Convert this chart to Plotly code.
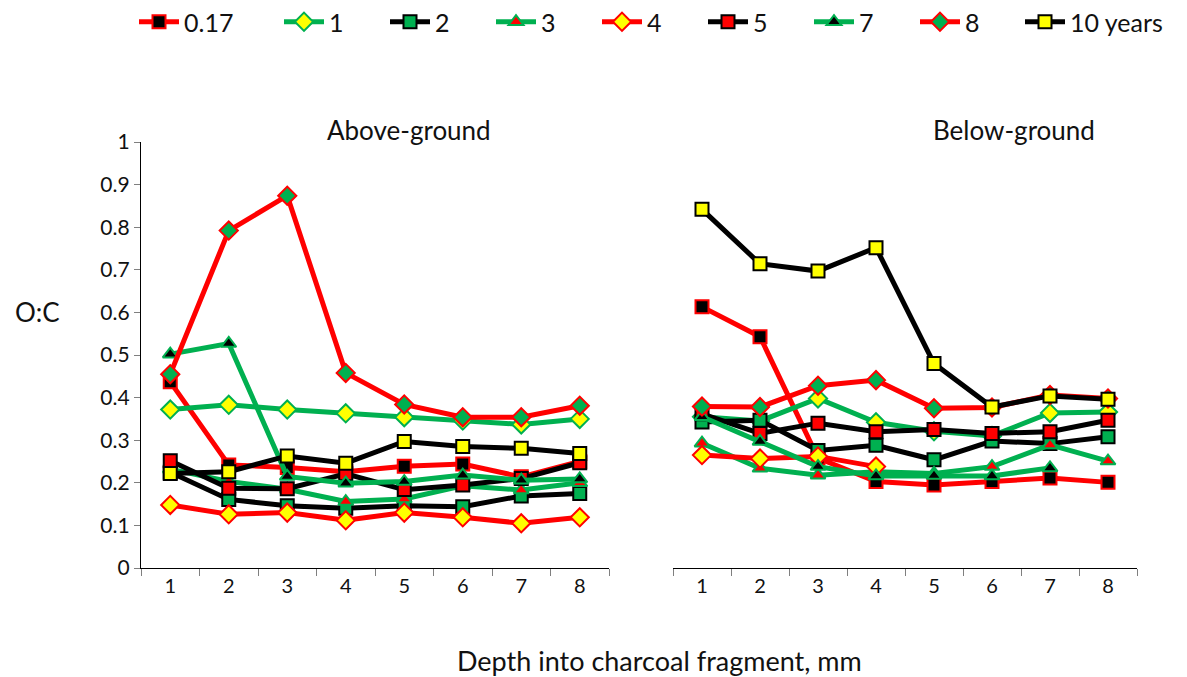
import plotly.graph_objects as go

depth = ["1", "2", "3", "4", "5", "6", "7", "8"]
y_ticks = [0, 0.1, 0.2, 0.3, 0.4, 0.5, 0.6, 0.7, 0.8, 0.9, 1]
y_tick_text = ["0", "0.1", "0.2", "0.3", "0.4", "0.5", "0.6", "0.7", "0.8", "0.9", "1"]

series_names = ["0.17", "1", "2", "3", "4", "5", "7", "8", "10 years"]

# Above-ground
ag_017 = [0.437, 0.242, 0.236, 0.226, 0.239, 0.244, 0.214, 0.250]
ag_1 = [0.372, 0.383, 0.372, 0.363, 0.354, 0.346, 0.337, 0.350]
ag_2 = [0.225, 0.161, 0.146, 0.140, 0.146, 0.144, 0.169, 0.175]
ag_3 = [0.232, 0.203, 0.185, 0.156, 0.162, 0.193, 0.183, 0.200]
ag_4 = [0.148, 0.126, 0.130, 0.112, 0.130, 0.119, 0.105, 0.119]
ag_5 = [0.252, 0.187, 0.186, 0.221, 0.184, 0.195, 0.210, 0.247]
ag_7 = [0.502, 0.527, 0.215, 0.199, 0.203, 0.218, 0.206, 0.209]
ag_8 = [0.455, 0.792, 0.874, 0.458, 0.384, 0.354, 0.354, 0.381]
ag_10 = [0.222, 0.226, 0.263, 0.246, 0.297, 0.285, 0.281, 0.269]

# Below-ground
bg_017 = [0.613, 0.543, 0.258, 0.203, 0.195, 0.203, 0.211, 0.201]
bg_1 = [0.355, 0.345, 0.398, 0.342, 0.321, 0.310, 0.364, 0.366]
bg_2 = [0.343, 0.347, 0.276, 0.288, 0.254, 0.298, 0.292, 0.308]
bg_3 = [0.293, 0.234, 0.218, 0.226, 0.222, 0.238, 0.289, 0.251]
bg_4 = [0.265, 0.257, 0.262, 0.238, None, None, None, None]
bg_5 = [0.362, 0.316, 0.340, 0.320, 0.325, 0.316, 0.320, 0.347]
bg_7 = [0.355, 0.297, 0.238, 0.216, 0.217, 0.216, 0.235, None]
bg_8 = [0.379, 0.378, 0.428, 0.441, 0.375, 0.377, 0.406, 0.398]
bg_10 = [0.842, 0.714, 0.697, 0.752, 0.480, 0.378, 0.404, 0.396]

above = [ag_017, ag_1, ag_2, ag_3, ag_4, ag_5, ag_7, ag_8, ag_10]
below = [bg_017, bg_1, bg_2, bg_3, bg_4, bg_5, bg_7, bg_8, bg_10]

RED = "#FF0000"
GREEN = "#00B050"
BLACK = "#000000"
YELLOW = "#FFFF00"

# (line colour, marker symbol, marker fill, marker border, marker size)
styles = [
    (RED, "square", BLACK, RED, 13),
    (GREEN, "diamond", YELLOW, GREEN, 14),
    (BLACK, "square", GREEN, BLACK, 13),
    (GREEN, "triangle-up", RED, GREEN, 13),
    (RED, "diamond", YELLOW, RED, 14),
    (BLACK, "square", RED, BLACK, 13),
    (GREEN, "triangle-up", BLACK, GREEN, 13),
    (RED, "diamond", GREEN, RED, 14),
    (BLACK, "square", YELLOW, BLACK, 13),
]

FONT = "Lato, 'Open Sans', sans-serif"
TXT = "#111"

last = len(series_names) - 1
fig = go.Figure()
for i, name in enumerate(series_names):
    lc, sym, fill, border, size = styles[i]
    leg = "legend" if i == 0 else ("legend3" if i == last else "legend2")
    for vals, xa, ya, show in [(above[i], "x", "y", True), (below[i], "x2", "y2", False)]:
        fig.add_trace(go.Scatter(
            x=depth, y=vals, name=name, legendgroup=name, showlegend=show,
            legend=leg,
            mode="lines+markers", xaxis=xa, yaxis=ya,
            line=dict(color=lc, width=5),
            marker=dict(symbol=sym, color=fill, size=size,
                        line=dict(color=border, width=2)),
            connectgaps=False,
        ))

# The page body has an 8 px margin; the figure is shrunk so it ends at the window edge.
OFF = 8
W, H = 1187 - OFF, 677 - OFF
ML = 141 - OFF
MT = 142 - OFF
MR = W - (1137 - OFF)
MB = H - (568 - OFF)
PW = W - ML - MR
PH = H - MT - MB

def px(xp):  # target-screen x pixel -> paper
    return (xp - 141) / PW

def py(yp):  # target-screen y pixel -> paper
    return (568 - yp) / PH

xaxis_common = dict(
    type="category", tickson="boundaries", ticks="outside", ticklen=7,
    tickcolor="#7f7f7f", tickwidth=1.2, showline=True, linecolor=BLACK,
    linewidth=1.2, showgrid=False, zeroline=False,
    tickfont=dict(family=FONT, size=20, color=TXT),
    range=[-0.5, 7.5], fixedrange=True, automargin=False,
)

legend_common = dict(
    orientation="h", yanchor="middle", xanchor="left",
    font=dict(family=FONT, size=25, color=TXT),
    bgcolor="rgba(0,0,0,0)", itemwidth=40, tracegroupgap=0,
)

fig.update_layout(
    width=W, height=H,
    margin=dict(l=ML, r=MR, t=MT, b=MB, autoexpand=False),
    paper_bgcolor="white", plot_bgcolor="white",
    font=dict(family=FONT, color=TXT),
    xaxis=dict(domain=[0, px(609)], anchor="y", **xaxis_common),
    xaxis2=dict(domain=[px(673), 1], anchor="y2", **xaxis_common),
    yaxis=dict(range=[0, 1], tickvals=y_ticks, ticktext=y_tick_text,
               ticks="outside", ticklen=6, tickcolor="#7f7f7f",
               showline=True, linecolor=BLACK, linewidth=1.2,
               showgrid=False, zeroline=False, automargin=False,
               tickfont=dict(family=FONT, size=21, color=TXT)),
    yaxis2=dict(range=[0, 1], anchor="x2", showline=False, showticklabels=False,
                ticks="", showgrid=False, zeroline=False),
    legend=dict(x=px(134), y=py(22), **legend_common),
    legend2=dict(x=px(279), y=py(22), entrywidth=51, entrywidthmode="pixels",
                 **legend_common),
    legend3=dict(x=px(1020), y=py(22), **legend_common),
    annotations=[
        dict(text="Above-ground", x=px(409), y=py(130), xref="paper", yref="paper",
             xanchor="center", yanchor="middle",
             showarrow=False, font=dict(family=FONT, size=26, color=TXT)),
        dict(text="Below-ground", x=px(1014), y=py(130), xref="paper", yref="paper",
             xanchor="center", yanchor="middle",
             showarrow=False, font=dict(family=FONT, size=26, color=TXT)),
        dict(text="O:C", x=px(37), y=py(312), xref="paper", yref="paper",
             xanchor="center", yanchor="middle",
             showarrow=False, font=dict(family=FONT, size=26, color=TXT)),
        dict(text="Depth into charcoal fragment, mm", x=px(659), y=py(660),
             xref="paper", yref="paper", xanchor="center", yanchor="middle",
             showarrow=False, font=dict(family=FONT, size=27, color=TXT)),
    ],
)

fig.write_html("out.html")
